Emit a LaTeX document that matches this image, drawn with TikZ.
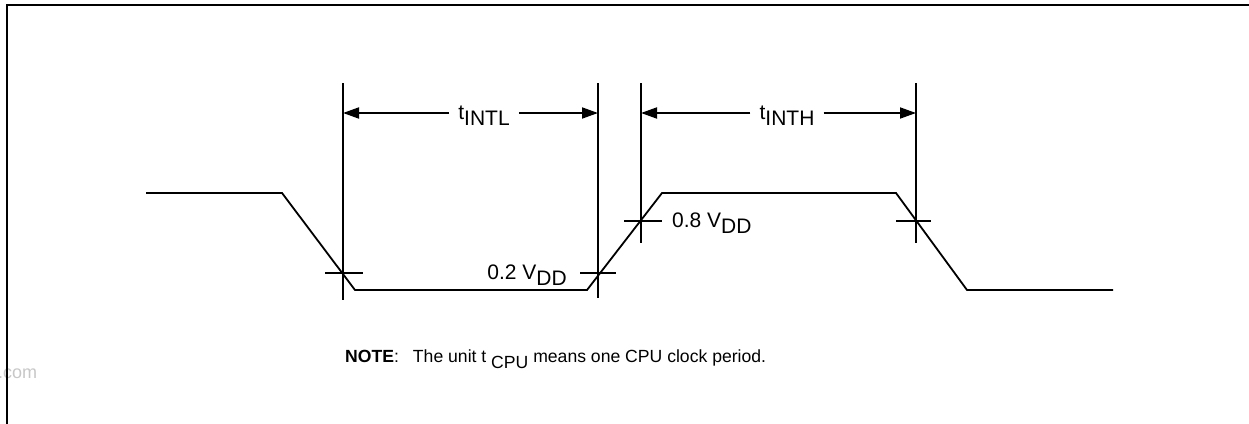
\documentclass[tikz,border=0pt]{standalone}
\usepackage{fontspec}
\setmainfont{Liberation Sans}
\usetikzlibrary{arrows.meta}
\begin{document}
\begin{tikzpicture}[x=1pt,y=-1pt,
  wave/.style={line width=1.8pt, line join=miter},
  guide/.style={line width=1.8pt},
  dim/.style={line width=1.8pt, -{Triangle[length=16pt,width=11pt]}},
  lbl/.style={font=\fontsize{21}{24}\selectfont, inner sep=0pt},
  frame/.style={line width=2.2pt}]
\useasboundingbox (0,0) rectangle (1249,423);
% watermark fragment
\node[anchor=base west, inner sep=0pt, text=black!22, font=\fontsize{18}{21}\selectfont] (wm) at (-2,378) {.com};
% frame
\draw[frame] (7,424) -- (7,5) -- (1250,5);
% waveform
\draw[wave] (146,193) -- (282,193) -- (355,290) -- (587,290) -- (662,193) -- (896,193) -- (967,290) -- (1113,290);
% vertical guides
\coordinate (v1t) at (343,83); \coordinate (v1b) at (343,300);
\coordinate (v2t) at (598,83); \coordinate (v2b) at (598,298);
\coordinate (v3t) at (641,83); \coordinate (v3b) at (641,243);
\coordinate (v4t) at (916,83); \coordinate (v4b) at (916,243);
\draw[guide] (v1t) -- (v1b);
\draw[guide] (v2t) -- (v2b);
\draw[guide] (v3t) -- (v3b);
\draw[guide] (v4t) -- (v4b);
% ticks
\coordinate (t1a) at (325,273); \coordinate (t1b) at (363,273);
\coordinate (t2a) at (580,273); \coordinate (t2b) at (616,273);
\coordinate (t3a) at (624,221); \coordinate (t3b) at (662,221);
\coordinate (t4a) at (896,221); \coordinate (t4b) at (931,221);
\draw[guide] (t1a) -- (t1b);
\draw[guide] (t2a) -- (t2b);
\draw[guide] (t3a) -- (t3b);
\draw[guide] (t4a) -- (t4b);
% dimension labels
\node[lbl, inner xsep=9pt] (intl) at (484,116) {t\raisebox{-6pt}{INTL}};
\node[lbl, inner xsep=9pt] (inth) at (787,116) {t\raisebox{-6pt}{INTH}};
\coordinate (a1) at (343,113); \coordinate (a2) at (598,113);
\coordinate (a3) at (641,113); \coordinate (a4) at (916,113);
\draw[dim] (intl.west |- a1) -- (a1);
\draw[dim] (intl.east |- a2) -- (a2);
\draw[dim] (inth.west |- a3) -- (a3);
\draw[dim] (inth.east |- a4) -- (a4);
% level labels
\node[lbl, anchor=base east] (v02) at (567,279) {0.2 V\raisebox{-6pt}{DD}};
\node[lbl, anchor=base west] (v08) at (672,227) {0.8 V\raisebox{-6pt}{DD}};
% note
\node[anchor=base west, inner sep=0pt, font=\fontsize{17.6}{21}\selectfont] (note) at (345,362)
  {\textbf{NOTE}:\hspace{14pt}The unit t \raisebox{-6pt}{CPU} means one CPU clock period.};
\end{tikzpicture}
\end{document}
